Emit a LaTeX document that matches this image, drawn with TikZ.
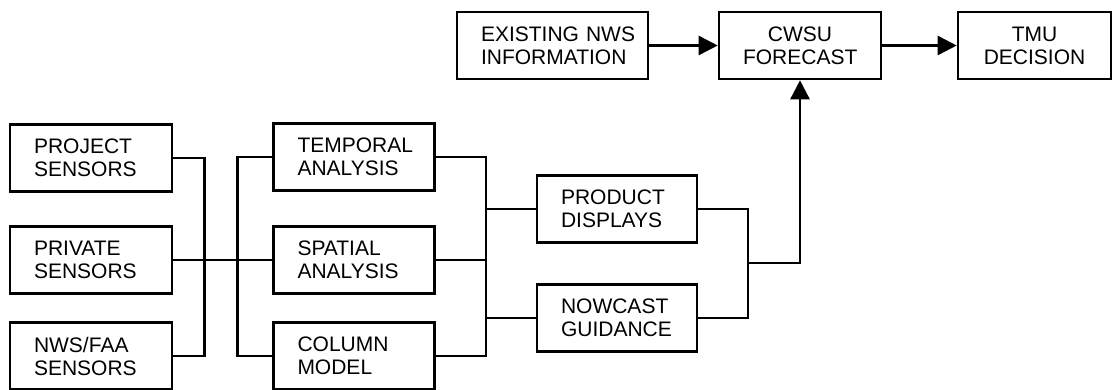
\documentclass[tikz,border=0pt]{standalone}
\usepackage{fontspec}
\setmainfont{Liberation Sans}
\usetikzlibrary{arrows.meta,calc}
\begin{document}
\begin{tikzpicture}[x=1pt,y=-1pt,
  box/.style={draw, line width=2.6pt, minimum height=67pt, inner ysep=0pt, inner xsep=24pt,
    font=\fontsize{21}{23}\selectfont, align=left},
  cbox/.style={box, align=center},
  wire/.style={line width=2.6pt},
  arr/.style={wire, -{Triangle[length=19pt,width=19pt]}}]
\fill[white] (0,0) rectangle (1113,389);
\useasboundingbox (0,0) rectangle (1113,389);

\node[box, text width=114pt] (project) at (91,158) {PROJECT\\SENSORS};
\node[box, text width=114pt] (private) at (91,260) {PRIVATE\\SENSORS};
\node[box, text width=114pt] (nws) at (91,356) {NWS/FAA\\SENSORS};

\node[box, text width=113pt] (temporal) at (354,157) {TEMPORAL\\ANALYSIS};
\node[box, text width=113pt] (spatial) at (354,260) {SPATIAL\\ANALYSIS};
\node[box, text width=113pt] (column) at (354,356) {COLUMN\\MODEL};

\node[box, text width=112pt] (product) at (617,209) {PRODUCT\\DISPLAYS};
\node[box, text width=112pt] (nowcast) at (617,318) {NOWCAST\\GUIDANCE};

\node[box, text width=143pt] (existing) at (552.5,45.5) {EXISTING~NWS\\INFORMATION};
\node[cbox, text width=114pt] (cwsu) at (800,45.5) {CWSU\\FORECAST};
\node[cbox, text width=105pt] (tmu) at (1034.5,45.5) {TMU\\DECISION};

\coordinate (j1) at (486,260);
\coordinate (j2) at (748,263);

\draw[wire] (project.east) -- ++(31,0) |- (nws.east);
\draw[wire] (private.east) -- (spatial.west);
\draw[wire] (temporal.west) -- ++(-35,0) |- (column.west);
\draw[wire] (temporal.east) -- (temporal.east -| j1) |- (column.east);
\draw[wire] (spatial.east) -- (j1);
\draw[wire] (product.west) -- (product.west -| j1);
\draw[wire] (nowcast.west) -- (nowcast.west -| j1);
\draw[wire] (product.east) -- (product.east -| j2) |- (nowcast.east);
\draw[arr] (j2) -| (cwsu.south);
\draw[arr] (existing.east) -- (cwsu.west);
\draw[arr] (cwsu.east) -- (tmu.west);
\end{tikzpicture}
\end{document}
